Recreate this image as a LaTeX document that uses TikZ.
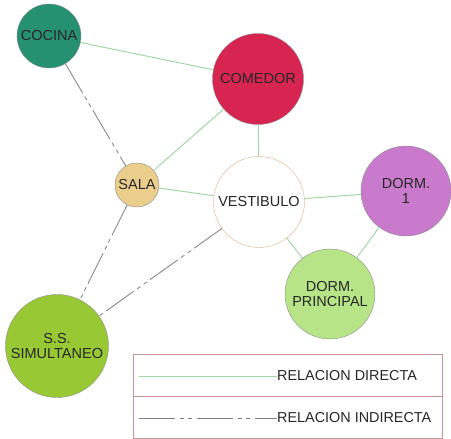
\documentclass[tikz,border=0pt]{standalone}
\usepackage{fontspec}
\setmainfont{Liberation Sans}
\usepackage{tikz}
\usetikzlibrary{positioning}
\definecolor{cocinagreen}{RGB}{38,145,112}
\definecolor{comedorred}{RGB}{216,36,80}
\definecolor{salatan}{RGB}{236,206,140}
\definecolor{dormpurple}{RGB}{202,122,204}
\definecolor{dormgreen}{RGB}{184,228,136}
\definecolor{ssgreen}{RGB}{152,200,52}
\definecolor{linkgreen}{RGB}{160,215,165}
\definecolor{linkgray}{RGB}{125,125,135}
\definecolor{legborder}{RGB}{200,150,150}
\tikzset{
  room/.style={circle,draw=black!45,inner sep=0pt,align=center,font=\fontsize{14.5}{15}\selectfont,text=black!85},
  direct/.style={draw=linkgreen,line width=1pt},
  indirect/.style={draw=linkgray,line width=0.8pt,dash pattern=on 34pt off 4pt on 4pt off 4pt on 4pt off 4pt},
  legbox/.style={rectangle,draw=legborder,line width=0.8pt,minimum width=309pt,minimum height=84pt,inner sep=0pt},
  legtext/.style={anchor=west,inner sep=0pt,font=\fontsize{14.4}{15}\selectfont,text=black!85}
}

\begin{document}
\begin{tikzpicture}[x=1pt,y=-1pt]
  \useasboundingbox (0,0) rectangle (451,439);

  \node[room,fill=cocinagreen,minimum size=64pt] (cocina) at (49,36) {COCINA};
  \node[room,fill=comedorred,minimum size=91pt] (comedor) at (258,79) {COMEDOR};
  \node[room,fill=salatan,minimum size=44pt] (sala) at (137,185) {SALA};
  \node[room,fill=white,draw=brown!60,minimum size=91pt] (vest) at (259,202) {VESTIBULO};
  \node[room,fill=dormpurple,minimum size=90pt] (dormA) at (406,191) {DORM.\\1};
  \node[room,fill=dormgreen,minimum size=90pt] (dormP) at (330,294) {DORM.\\PRINCIPAL};
  \node[room,fill=ssgreen,minimum size=103pt] (ss) at (57,346) {S.S.\\SIMULTANEO};

  % relaciones directas
  \draw[direct] (cocina)--(comedor);
  \draw[direct] (comedor)--(sala);
  \draw[direct] (comedor)--(vest);
  \draw[direct] (sala)--(vest);
  \draw[direct] (vest)--(dormA);
  \draw[direct] (vest)--(dormP);
  \draw[direct] (dormA)--(dormP);

  % relaciones indirectas
  \draw[indirect] (cocina)--(sala);
  \draw[indirect] (sala)--(ss);
  \draw[indirect] (vest)--(ss);

  % leyenda
  \node[legbox] (leg) at (287.5,396) {};
  \draw[legborder,line width=0.8pt] (leg.west)--(leg.east);
  \node[legtext] (ldir) at (277,376) {RELACION DIRECTA};
  \node[legtext] (lind) at (277,418) {RELACION INDIRECTA};
  \coordinate (ldirstart) at (139,376);
  \coordinate (lindstart) at (139,418);
  \draw[direct] (ldirstart)--(ldir.west);
  \draw[indirect,dash pattern=on 36pt off 5pt on 4pt off 4pt on 4pt off 5pt] (lindstart)--(lind.west);
\end{tikzpicture}
\end{document}
